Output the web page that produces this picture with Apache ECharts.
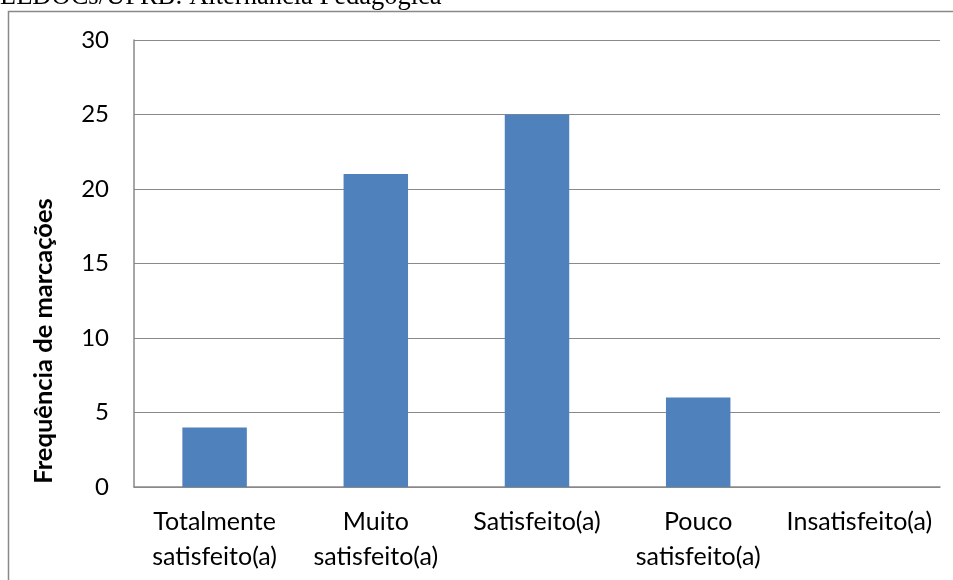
<!DOCTYPE html>
<html>
<head>
<meta charset="utf-8">
<script src="https://cdn.jsdelivr.net/npm/echarts@6/dist/echarts.min.js"></script>
<style>
  html, body { margin: 0; padding: 0; background: #fff; }
  #chart { width: 953px; height: 580px; }
</style>
</head>
<body>
<div id="chart"></div>
<script>
// dados do gráfico
const categorias = ['Totalmente\nsatisfeito(a)', 'Muito\nsatisfeito(a)', 'Satisfeito(a)', 'Pouco\nsatisfeito(a)', 'Insatisfeito(a)'];
const marcacoes = [4, 21, 25, 6, 0];
const tituloTopo = 'LEDOCs/UFRB: Alternância Pedagógica';
const nomeEixoY = 'Frequência de marcações';

const cinza = '#898989';
const fonte = 'Lato, "Open Sans", sans-serif';

const myChart = echarts.init(document.getElementById('chart'));

const option = {
  animation: false,
  backgroundColor: '#fff',
  grid: {
    left: 134,
    right: 13,
    top: 40,
    bottom: 93
  },
  xAxis: {
    type: 'category',
    data: categorias,
    axisLine: { lineStyle: { color: cinza, width: 1.5 } },
    axisTick: { show: false },
    axisLabel: {
      interval: 0,
      color: '#000',
      fontFamily: fonte,
      fontSize: 25,
      lineHeight: 35,
      margin: 17
    }
  },
  yAxis: {
    type: 'value',
    min: 0,
    max: 30,
    interval: 5,
    axisLine: { show: true, lineStyle: { color: cinza, width: 1.5 } },
    axisTick: { show: false },
    splitLine: { lineStyle: { color: cinza, width: 1 } },
    axisLabel: {
      color: '#000',
      fontFamily: fonte,
      fontSize: 24,
      margin: 25
    }
  },
  series: [
    {
      type: 'bar',
      data: marcacoes,
      barWidth: '40%',
      itemStyle: { color: '#4F81BD' }
    }
  ],
  graphic: [
    // moldura do gráfico (cortada à direita e embaixo)
    {
      type: 'rect',
      shape: { x: 8.5, y: 11.5, width: 1000, height: 700 },
      style: { fill: 'none', stroke: cinza, lineWidth: 1.5 },
      z: -1
    },
    // texto cortado acima do gráfico
    {
      type: 'text',
      x: 0,
      y: -3,
      style: {
        text: tituloTopo,
        font: '26.5px "Liberation Serif", "Times New Roman", serif',
        fill: '#000',
        align: 'left',
        verticalAlign: 'middle'
      }
    },
    // título do eixo Y
    {
      type: 'text',
      x: 44,
      y: 341,
      rotation: Math.PI / 2,
      style: {
        text: nomeEixoY,
        font: 'bold 25.5px ' + fonte,
        fill: '#000',
        align: 'center',
        verticalAlign: 'middle'
      }
    }
  ]
};

myChart.setOption(option);
</script>
</body>
</html>
